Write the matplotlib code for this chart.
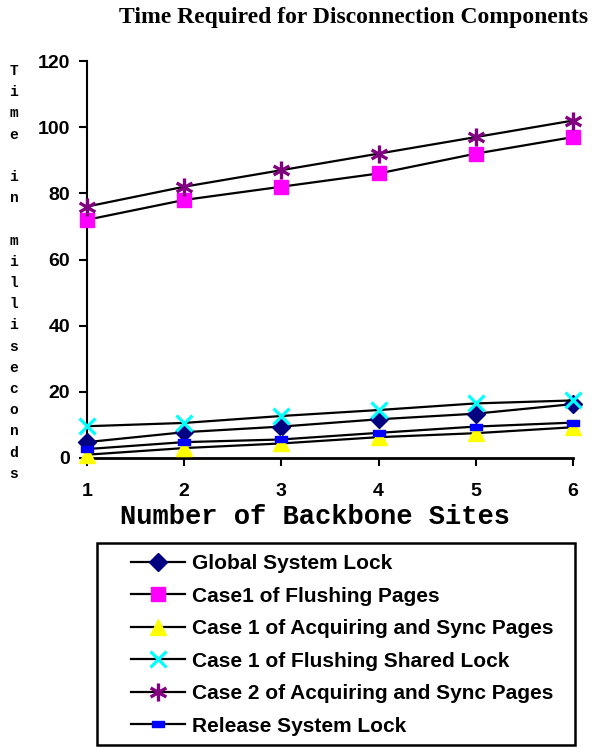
import matplotlib.pyplot as plt
from matplotlib.path import Path
from matplotlib.patches import Rectangle

sites = [1, 2, 3, 4, 5, 6]
global_lock = [4.8, 7.8, 9.5, 11.7, 13.4, 16.3]
flush_pages = [72, 78, 82, 86, 92, 97]
acq_sync_1 = [1, 3, 4.4, 6.3, 7.5, 9.3]
flush_shared = [9.6, 10.6, 12.7, 14.5, 16.5, 17.4]
acq_sync_2 = [76, 82, 87, 92, 97, 102]
release_lock = [2.7, 4.8, 5.6, 7.6, 9.5, 10.7]

labels = ["Global System Lock", "Case1 of Flushing Pages",
          "Case 1 of Acquiring and Sync Pages", "Case 1 of Flushing Shared Lock",
          "Case 2 of Acquiring and Sync Pages", "Release System Lock"]

# custom markers: small blue bar and six-armed asterisk
dash = Path([(-1, -0.5), (1, -0.5), (1, 0.5), (-1, 0.5), (-1, -0.5)],
            [Path.MOVETO, Path.LINETO, Path.LINETO, Path.LINETO, Path.CLOSEPOLY])
star = Path([(0, -1), (0, 1), (-0.87, -0.5), (0.87, 0.5), (-0.87, 0.5), (0.87, -0.5)],
            [Path.MOVETO, Path.LINETO, Path.MOVETO, Path.LINETO, Path.MOVETO, Path.LINETO])

styles = [
    ('D', '#000080', 9, 1),
    ('s', '#FF00FF', 10, 1),
    ('^', '#FFFF00', 11, 1),
    ('x', '#00FFFF', 11, 2.3),
    (star, '#800080', 13, 2.4),
    (dash, '#0000FF', 8, 1),
]
series = [global_lock, flush_pages, acq_sync_1, flush_shared, acq_sync_2, release_lock]

plt.rcParams['font.family'] = 'Liberation Sans'
fig = plt.figure(figsize=(5.98, 7.47), dpi=100)
ax = fig.add_axes([87/598, 1 - 458/747, (573 - 87)/598, (458 - 61)/747])

handles = []
for vals, (m, c, ms, mew), lab in zip(series, styles, labels):
    h, = ax.plot(sites, vals, color='black', lw=1.6, marker=m, markersize=ms,
                 markerfacecolor=c, markeredgecolor=c, markeredgewidth=mew,
                 label=lab, clip_on=False, zorder=3)
    handles.append(h)

ax.set_xlim(1, 6)
ax.set_ylim(0, 120)
ax.set_xticks(sites)
ax.set_yticks([0, 20, 40, 60, 80, 100, 120])
ax.spines['top'].set_visible(False)
ax.spines['right'].set_visible(False)
ax.spines['left'].set_linewidth(1.5)
ax.spines['bottom'].set_linewidth(2)
ax.tick_params(direction='out', length=6, width=1.5, labelsize=14)
ax.tick_params(axis='y', pad=6)
ax.tick_params(axis='x', pad=12)
for t in ax.get_xticklabels() + ax.get_yticklabels():
    t.set_fontweight('bold')

fig.text(315/598, 1 - 517/747, "Number of Backbone Sites", family='Liberation Mono',
         fontweight='bold', fontsize=19.5, ha='center', va='center')

fig.text(354/598, 1 - 18/747, "Time Required for Disconnection Components",
         family='Liberation Serif', fontweight='bold', fontsize=17,
         ha='center', va='center')

ylab = "Time in milliseconds"
for i, ch in enumerate(ylab):
    fig.text(14/598, 1 - (71 + i * 21.2)/747, ch, family='Liberation Mono',
             fontweight='bold', fontsize=10.5, ha='center', va='center')

fig.patches.append(Rectangle((97/598, 1 - 745/747), (575 - 97)/598, (745 - 543)/747,
                             transform=fig.transFigure, fill=False,
                             edgecolor='black', linewidth=1.8))
leg = fig.legend(handles=handles, loc='upper left',
                 bbox_to_anchor=(131/598, 1 - 554/747), frameon=False,
                 prop={'weight': 'bold', 'size': 15}, handlelength=2.6,
                 labelspacing=0.65, borderpad=0, borderaxespad=0,
                 handletextpad=0.35)

fig.savefig('out.png', dpi=100)
